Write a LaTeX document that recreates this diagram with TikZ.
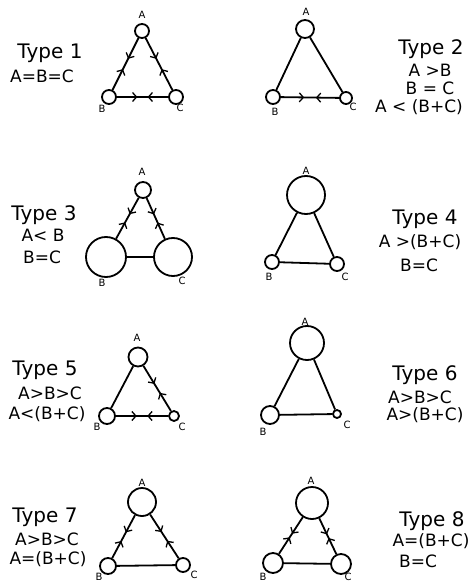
\documentclass[tikz,border=0pt]{standalone}
\usepackage{fontspec}
\setmainfont{DejaVu Sans}
\usetikzlibrary{arrows.meta,decorations.markings}
\tikzstyle{vertex} = [circle, draw, line width=1.8pt, inner sep=0pt, fill=white]
\tikzstyle{tag} = [font=\fontsize{10}{10}\selectfont, inner sep=0pt]
\tikzstyle{typename} = [font=\fontsize{20}{20}\selectfont, inner sep=0pt]
\tikzstyle{relation} = [font=\fontsize{17}{17}\selectfont, inner sep=0pt]
\tikzstyle{edge} = [line width=1.8pt]
\tikzstyle{meet} = [edge, decoration={markings,
    mark=at position 0.40 with {\arrow{Straight Barb[length=4pt,width=9pt,line width=1.3pt]}},
    mark=at position 0.60 with {\arrowreversed{Straight Barb[length=4pt,width=9pt,line width=1.3pt]}}}, postaction={decorate}]
\tikzstyle{meetclose} = [edge, decoration={markings,
    mark=at position 0.45 with {\arrow{Straight Barb[length=4pt,width=9pt,line width=1.3pt]}},
    mark=at position 0.55 with {\arrowreversed{Straight Barb[length=4pt,width=9pt,line width=1.3pt]}}}, postaction={decorate}]

\begin{document}
\begin{tikzpicture}[x=1pt, y=-1pt]
    \useasboundingbox (0,0) rectangle (473,585);

    % Type 1
    \node [vertex, minimum size=14pt] (a1) at (142,31) {};
    \node [vertex, minimum size=14pt] (b1) at (109,97) {};
    \node [vertex, minimum size=14pt] (c1) at (176,97) {};
    \node [tag] (la1) at (142,15) {A};
    \node [tag] (lb1) at (102,109) {B};
    \node [tag] (lc1) at (180,108) {C};
    \node [typename] (t1) at (50,53) {Type 1};
    \node [relation] (r1) at (42,76) {A=B=C};
    \draw [meet] (a1) -- (b1);
    \draw [meet] (a1) -- (c1);
    \draw [meet] (b1) -- (c1);

    % Type 2
    \node [vertex, minimum size=18pt] (a2) at (305,29) {};
    \node [vertex, minimum size=14pt] (b2) at (273,97) {};
    \node [vertex, minimum size=12pt] (c2) at (346,98) {};
    \node [tag] (la2) at (306,12) {A};
    \node [tag] (lb2) at (275,112) {B};
    \node [tag] (lc2) at (353,107) {C};
    \node [typename] (t2) at (431,49) {Type 2};
    \node [relation] (r2a) at (430,70) {A >B};
    \node [relation] (r2b) at (430,88) {B = C};
    \node [relation] (r2c) at (419,107) {A < (B+C)};
    \draw [edge] (a2) -- (b2);
    \draw [edge] (a2) -- (c2);
    \draw [meet] (b2) -- (c2);

    % Type 3
    \node [vertex, minimum size=16pt] (a3) at (143,190) {};
    \node [vertex, minimum size=40pt] (b3) at (106,257) {};
    \node [vertex, minimum size=38pt] (c3) at (173,257) {};
    \node [tag] (la3) at (142,172) {A};
    \node [tag] (lb3) at (102,283) {B};
    \node [tag] (lc3) at (182,281) {C};
    \node [typename] (t3) at (44,215) {Type 3};
    \node [relation] (r3a) at (43,235) {A< B};
    \node [relation] (r3b) at (42,257) {B=C};
    \draw [meet] (a3) -- (b3);
    \draw [meet] (a3) -- (c3);
    \draw [edge] (b3) -- (c3);

    % Type 4
    \node [vertex, minimum size=38pt] (a4) at (306,195) {};
    \node [vertex, minimum size=14pt] (b4) at (272,262) {};
    \node [vertex, minimum size=14pt] (c4) at (337,264) {};
    \node [tag] (la4) at (306,171) {A};
    \node [tag] (lb4) at (269,277) {B};
    \node [tag] (lc4) at (345,277) {C};
    \node [typename] (t4) at (425,219) {Type 4};
    \node [relation] (r4a) at (420,242) {A >(B+C)};
    \node [relation] (r4b) at (419,265) {B=C};
    \draw [edge] (a4) -- (b4);
    \draw [edge] (a4) -- (c4);
    \draw [edge] (b4) -- (c4);

    % Type 5
    \node [vertex, minimum size=19pt] (a5) at (138,357) {};
    \node [vertex, minimum size=16pt] (b5) at (107,416) {};
    \node [vertex, minimum size=10pt] (c5) at (174,416) {};
    \node [tag] (la5) at (137,338) {A};
    \node [tag] (lb5) at (97,427) {B};
    \node [tag] (lc5) at (182,427) {C};
    \node [typename] (t5) at (45,370) {Type 5};
    \node [relation] (r5a) at (50,393) {A>B>C};
    \node [relation] (r5b) at (47,414) {A<(B+C)};
    \draw [edge] (a5) -- (b5);
    \draw [meet] (a5) -- (c5);
    \draw [meet] (b5) -- (c5);

    % Type 6
    \node [vertex, minimum size=34pt] (a6) at (307,343) {};
    \node [vertex, minimum size=18pt] (b6) at (270,415) {};
    \node [vertex, minimum size=8pt] (c6) at (337,414) {};
    \node [tag] (la6) at (305,322) {A};
    \node [tag] (lb6) at (263,432) {B};
    \node [tag] (lc6) at (347,425) {C};
    \node [typename] (t6) at (425,375) {Type 6};
    \node [relation] (r6a) at (420,397) {A>B>C};
    \node [relation] (r6b) at (425,415) {A>(B+C)};
    \draw [edge] (a6) -- (b6);
    \draw [edge] (a6) -- (c6);
    \draw [edge] (b6) -- (c6);

    % Type 7
    \node [vertex, minimum size=28pt] (a7) at (142,502) {};
    \node [vertex, minimum size=16pt] (b7) at (108,566) {};
    \node [vertex, minimum size=14pt] (c7) at (183,565) {};
    \node [tag] (la7) at (142,483) {A};
    \node [tag] (lb7) at (99,577) {B};
    \node [tag] (lc7) at (194,575) {C};
    \node [typename] (t7) at (45,517) {Type 7};
    \node [relation] (r7a) at (47,539) {A>B>C};
    \node [relation] (r7b) at (48,559) {A=(B+C)};
    \draw [meet] (a7) -- (b7);
    \draw [meet] (a7) -- (c7);
    \draw [edge] (b7) -- (c7);

    % Type 8
    \node [vertex, minimum size=32pt] (a8) at (312,503) {};
    \node [vertex, minimum size=20pt] (b8) at (273,563) {};
    \node [vertex, minimum size=20pt] (c8) at (341,564) {};
    \node [tag] (la8) at (311,481) {A};
    \node [tag] (lb8) at (263,577) {B};
    \node [tag] (lc8) at (348,577) {C};
    \node [typename] (t8) at (432,521) {Type 8};
    \node [relation] (r8a) at (431,541) {A=(B+C)};
    \node [relation] (r8b) at (418,561) {B=C};
    \draw [meetclose] (a8) -- (b8);
    \draw [meetclose] (a8) -- (c8);
    \draw [edge] (b8) -- (c8);

\end{tikzpicture}
\end{document}
